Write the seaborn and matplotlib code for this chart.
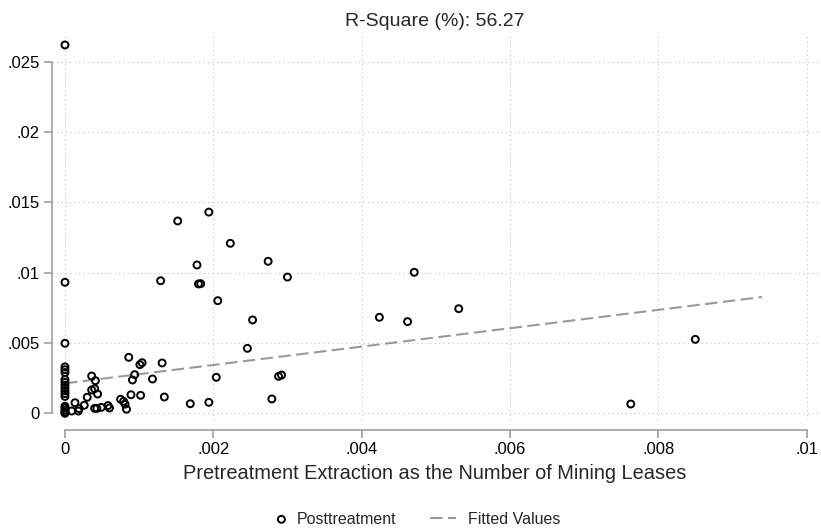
import numpy as np
import pandas as pd
import matplotlib
matplotlib.use('Agg')
import matplotlib.pyplot as plt
import seaborn as sns

# 数据：散点（Posttreatment）
post_x = [
    0, 0, 0, 0, 0, 0, 0, 0, 0, 0, 0, 0, 0, 0, 0, 0, 0, 0, 0,
    0.000135, 0.00009, 0.00019, 0.00018, 0.00026, 0.0003, 0.00036, 0.00041,
    0.00036, 0.0004, 0.00044, 0.0004, 0.00043, 0.00049, 0.00058, 0.0006,
    0.00075, 0.00079, 0.00081, 0.00083, 0.00089, 0.00086, 0.00091, 0.00094,
    0.00101, 0.00104, 0.00102,
    0.00118, 0.00131, 0.00134, 0.00169, 0.00194, 0.00204, 0.00129, 0.00152,
    0.00194, 0.00223, 0.00178, 0.00274, 0.0018, 0.00183, 0.003, 0.00206,
    0.00253, 0.00246, 0.00288, 0.00292, 0.00279,
    0.00471, 0.00424, 0.00462, 0.00531, 0.0085, 0.00763,
]
post_y = [
    0.0262, 0.00932, 0.00498, 0.0033, 0.0031, 0.0029, 0.0024, 0.0022, 0.0020,
    0.0018, 0.0016, 0.0014, 0.0012, 0.0005, 0.00038, 0.00023, 0.0001, 0.00003, 0.0,
    0.00075, 0.00016, 0.00033, 0.00016, 0.00057, 0.00114, 0.00265, 0.00232,
    0.00166, 0.00175, 0.00137, 0.00035, 0.00035, 0.00042, 0.00055, 0.00038,
    0.001, 0.00085, 0.00065, 0.00029, 0.00132, 0.00398, 0.00237, 0.00275,
    0.00346, 0.0036, 0.00128,
    0.00244, 0.00358, 0.00116, 0.00068, 0.00078, 0.00256, 0.00943, 0.01368,
    0.01431, 0.01209, 0.01055, 0.01081, 0.0092, 0.00922, 0.00969, 0.00801,
    0.00664, 0.00462, 0.00263, 0.00272, 0.00102,
    0.01003, 0.00683, 0.00652, 0.00744, 0.00526, 0.00066,
]

# 拟合线端点
fit_x = [0.0, 0.0094]
fit_y = [0.00213, 0.00827]

x_ticks = [0, 0.002, 0.004, 0.006, 0.008, 0.01]
y_ticks = [0, 0.005, 0.01, 0.015, 0.02, 0.025]

title_text = 'R-Square (%): 56.27'
x_label = 'Pretreatment Extraction as the Number of Mining Leases'

df = pd.DataFrame({'x': post_x, 'y': post_y})
fit_df = pd.DataFrame({'x': fit_x, 'y': fit_y})

sns.set_style('white')
plt.rcParams['font.family'] = ['Liberation Sans', 'DejaVu Sans']

fig = plt.figure(figsize=(8.21, 5.31), dpi=100)
ax = fig.add_axes([52 / 821, 1 - 420 / 531, (818 - 52) / 821, (420 - 33) / 531])

sns.lineplot(data=fit_df, x='x', y='y', ax=ax, color='#9a9a9a', linewidth=1.5,
             label='Fitted Values')
ax.lines[-1].set_dashes([6, 2.6])

sns.scatterplot(data=df, x='x', y='y', ax=ax, marker='o', s=25,
                facecolors='none', edgecolor='black', linewidth=1.4,
                label='Posttreatment', zorder=3)

ax.set_xlim(-0.000175, 0.010155)
ax.set_ylim(-0.000477, 0.02705)


def stata_fmt(v, pos=None):
    if v == 0:
        return '0'
    return f'{v:g}'.lstrip('0')


ax.set_xticks(x_ticks)
ax.set_yticks(y_ticks)
ax.set_xticklabels([stata_fmt(v) for v in x_ticks])
ax.set_yticklabels([stata_fmt(v) for v in y_ticks])

ax.grid(True, linestyle=(0, (1, 3)), color='#c4c4c4', linewidth=0.8)
ax.set_axisbelow(True)

for side in ['top', 'right']:
    ax.spines[side].set_visible(False)
for side in ['left', 'bottom']:
    ax.spines[side].set_color('#a0a0a0')
    ax.spines[side].set_linewidth(1.2)
ax.spines['bottom'].set_position(('outward', 7))
ax.spines['left'].set_bounds(0, 0.025)
ax.spines['bottom'].set_bounds(0, 0.01)

ax.tick_params(axis='both', colors='#a0a0a0', labelcolor='black', labelsize=12,
               length=6, width=1.2, direction='out')
ax.tick_params(axis='x', pad=3, bottom=True)
ax.tick_params(axis='y', pad=3, left=True)

ax.set_title(title_text, fontsize=14, pad=5)
ax.set_xlabel(x_label, fontsize=14.4, labelpad=5)
ax.set_ylabel('')

handles, labels = ax.get_legend_handles_labels()
ax.get_legend().remove()
h_post = handles[labels.index('Posttreatment')]
h_fit = handles[labels.index('Fitted Values')]

# 图例：两个条目分开放，便于控制间距
fig.legend([h_post], ['Posttreatment'], loc='center left',
           bbox_to_anchor=(275 / 821, 1 - 519 / 531), frameon=False,
           fontsize=11.5, handlelength=0.8, handletextpad=0.55,
           borderpad=0, borderaxespad=0)
fig.legend([h_fit], ['Fitted Values'], loc='center left',
           bbox_to_anchor=(430 / 821, 1 - 519 / 531), frameon=False,
           fontsize=11.5, handlelength=1.6, handletextpad=0.75,
           borderpad=0, borderaxespad=0)

fig.savefig('out.png', dpi=100)
